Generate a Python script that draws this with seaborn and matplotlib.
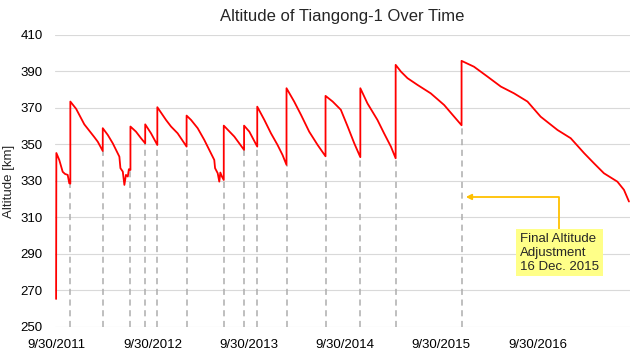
import seaborn as sns
import matplotlib.pyplot as plt
import pandas as pd

# altitude track (jumps = same date twice: before / after reboost)
dates = [
    "2011-09-30", "2011-10-01", "2011-10-12", "2011-10-25", "2011-11-03", "2011-11-13", "2011-11-19",
    "2011-11-23", "2011-11-23", "2011-12-15", "2012-01-15", "2012-02-22", "2012-03-06",
    "2012-03-25", "2012-03-25", "2012-04-13", "2012-05-02", "2012-05-27", "2012-05-31", "2012-06-09",
    "2012-06-15", "2012-06-21", "2012-06-28", "2012-07-02", "2012-07-06",
    "2012-07-08", "2012-07-08", "2012-07-29", "2012-08-17",
    "2012-09-02", "2012-09-02", "2012-09-24",
    "2012-10-18", "2012-10-18", "2012-11-20", "2012-12-09", "2013-01-03",
    "2013-02-06", "2013-02-06", "2013-02-23", "2013-03-20", "2013-04-14", "2013-05-03", "2013-05-22",
    "2013-05-25", "2013-06-04", "2013-06-10", "2013-06-14", "2013-06-20",
    "2013-06-27", "2013-06-27", "2013-08-06",
    "2013-09-12", "2013-09-12", "2013-10-02",
    "2013-11-01", "2013-11-01", "2013-11-28", "2013-12-23", "2014-01-17", "2014-02-05",
    "2014-02-20", "2014-02-20", "2014-03-21", "2014-04-16", "2014-05-17", "2014-06-18",
    "2014-07-18", "2014-07-18", "2014-08-14", "2014-09-14", "2014-10-10", "2014-11-04",
    "2014-11-27", "2014-11-27", "2014-12-24", "2015-01-31", "2015-02-25", "2015-03-23",
    "2015-04-10", "2015-04-10", "2015-04-30", "2015-05-25", "2015-07-02", "2015-08-21",
    "2015-10-11", "2015-11-12",
    "2015-12-16", "2015-12-16", "2016-02-01", "2016-03-23", "2016-05-13", "2016-07-02",
    "2016-08-22", "2016-10-11", "2016-12-14", "2017-02-02", "2017-03-25", "2017-05-01",
    "2017-06-08", "2017-07-29", "2017-08-23", "2017-09-11",
]
altitude = [
    265.3, 345.3, 341.5, 335.0, 333.8, 333.3, 328.7,
    328.5, 373.5, 369.5, 361.0, 354.0, 351.5,
    346.4, 358.9, 355.2, 350.6, 343.3, 337.0, 335.1,
    327.8, 333.3, 332.4, 336.4, 336.0,
    336.0, 359.8, 357.0, 353.4,
    350.6, 361.0, 356.1,
    349.7, 370.4, 363.4, 359.8, 356.1,
    348.8, 365.8, 363.4, 358.9, 352.5, 347.0, 341.5,
    337.0, 334.2, 329.6, 334.6, 332.4,
    330.5, 360.3, 354.3,
    347.0, 360.3, 357.0,
    348.8, 370.7, 363.4, 356.1, 349.7, 344.2,
    338.8, 380.8, 373.5, 366.2, 357.0, 349.7,
    343.5, 376.6, 373.5, 369.0, 359.8, 350.6,
    343.0, 380.8, 372.5, 363.4, 356.1, 348.8,
    342.4, 393.6, 389.9, 386.3, 382.6, 378.0,
    371.6, 366.2,
    360.5, 395.8, 392.6, 387.2, 381.7, 378.0,
    373.5, 365.2, 357.9, 353.4, 345.2, 339.7,
    334.2, 329.6, 325.1, 318.7,
]
tick_dates = ["2011-09-30", "2012-09-30", "2013-09-30", "2014-09-30", "2015-09-30", "2016-09-30"]
tick_labels = ["9/30/2011", "9/30/2012", "9/30/2013", "9/30/2014", "9/30/2015", "9/30/2016"]
note_text = "Final Altitude\nAdjustment\n16 Dec. 2015"

df = pd.DataFrame({"date": pd.to_datetime(dates), "alt": altitude})

sns.set_theme(style="whitegrid")
plt.rcParams["font.family"] = ["Liberation Sans", "DejaVu Sans"]

fig = plt.figure(figsize=(6.4, 3.53), dpi=100)
ax = fig.add_axes([0.086, 0.074, 0.898, 0.827])

# dashed lines under each reboost
jumps = df[df["date"].duplicated(keep="last")]
ax.vlines(jumps["date"], 250, jumps["alt"], colors="#adadad", linestyles=(0, (4, 3)),
          linewidth=1.1, zorder=2)

sns.lineplot(data=df, x="date", y="alt", estimator=None, sort=False,
             color="#ff0000", linewidth=1.3, ax=ax, zorder=3)

ax.set_xlim(pd.Timestamp("2011-09-26"), pd.Timestamp("2017-09-14"))
ax.set_ylim(250, 410)
ax.set_yticks(range(250, 411, 20))
ax.set_xticks(pd.to_datetime(tick_dates))
ax.set_xticklabels(tick_labels)
ax.tick_params(axis="both", length=0, labelsize=9.5, colors="#000000")
ax.tick_params(axis="x", pad=9)
ax.tick_params(axis="y", pad=9)
ax.grid(axis="x", visible=False)
ax.grid(axis="y", color="#d9d9d9", linewidth=0.8)
for s in ax.spines.values():
    s.set_visible(False)

ax.set_xlabel("")
ax.set_ylabel("Altitude [km]", fontsize=9.5, labelpad=4)
ax.set_title("Altitude of Tiangong-1 Over Time", fontsize=12, pad=10)

# note box and arrow
ax.text(pd.Timestamp("2016-07-24"), 301.5, note_text, fontsize=9.5, va="top", ha="left",
        linespacing=1.2, zorder=5,
        bbox=dict(boxstyle="square,pad=0.3", facecolor="#ffff88", edgecolor="none"))
ax.annotate("", xy=(pd.Timestamp("2016-01-01"), 321.2),
            xytext=(pd.Timestamp("2016-12-19"), 302.6),
            arrowprops=dict(arrowstyle="-|>", color="#ffc000", lw=1.3,
                            connectionstyle="angle,angleA=90,angleB=0,rad=0",
                            shrinkA=0, shrinkB=0, mutation_scale=8), zorder=4)

fig.savefig("out.png", dpi=100)
